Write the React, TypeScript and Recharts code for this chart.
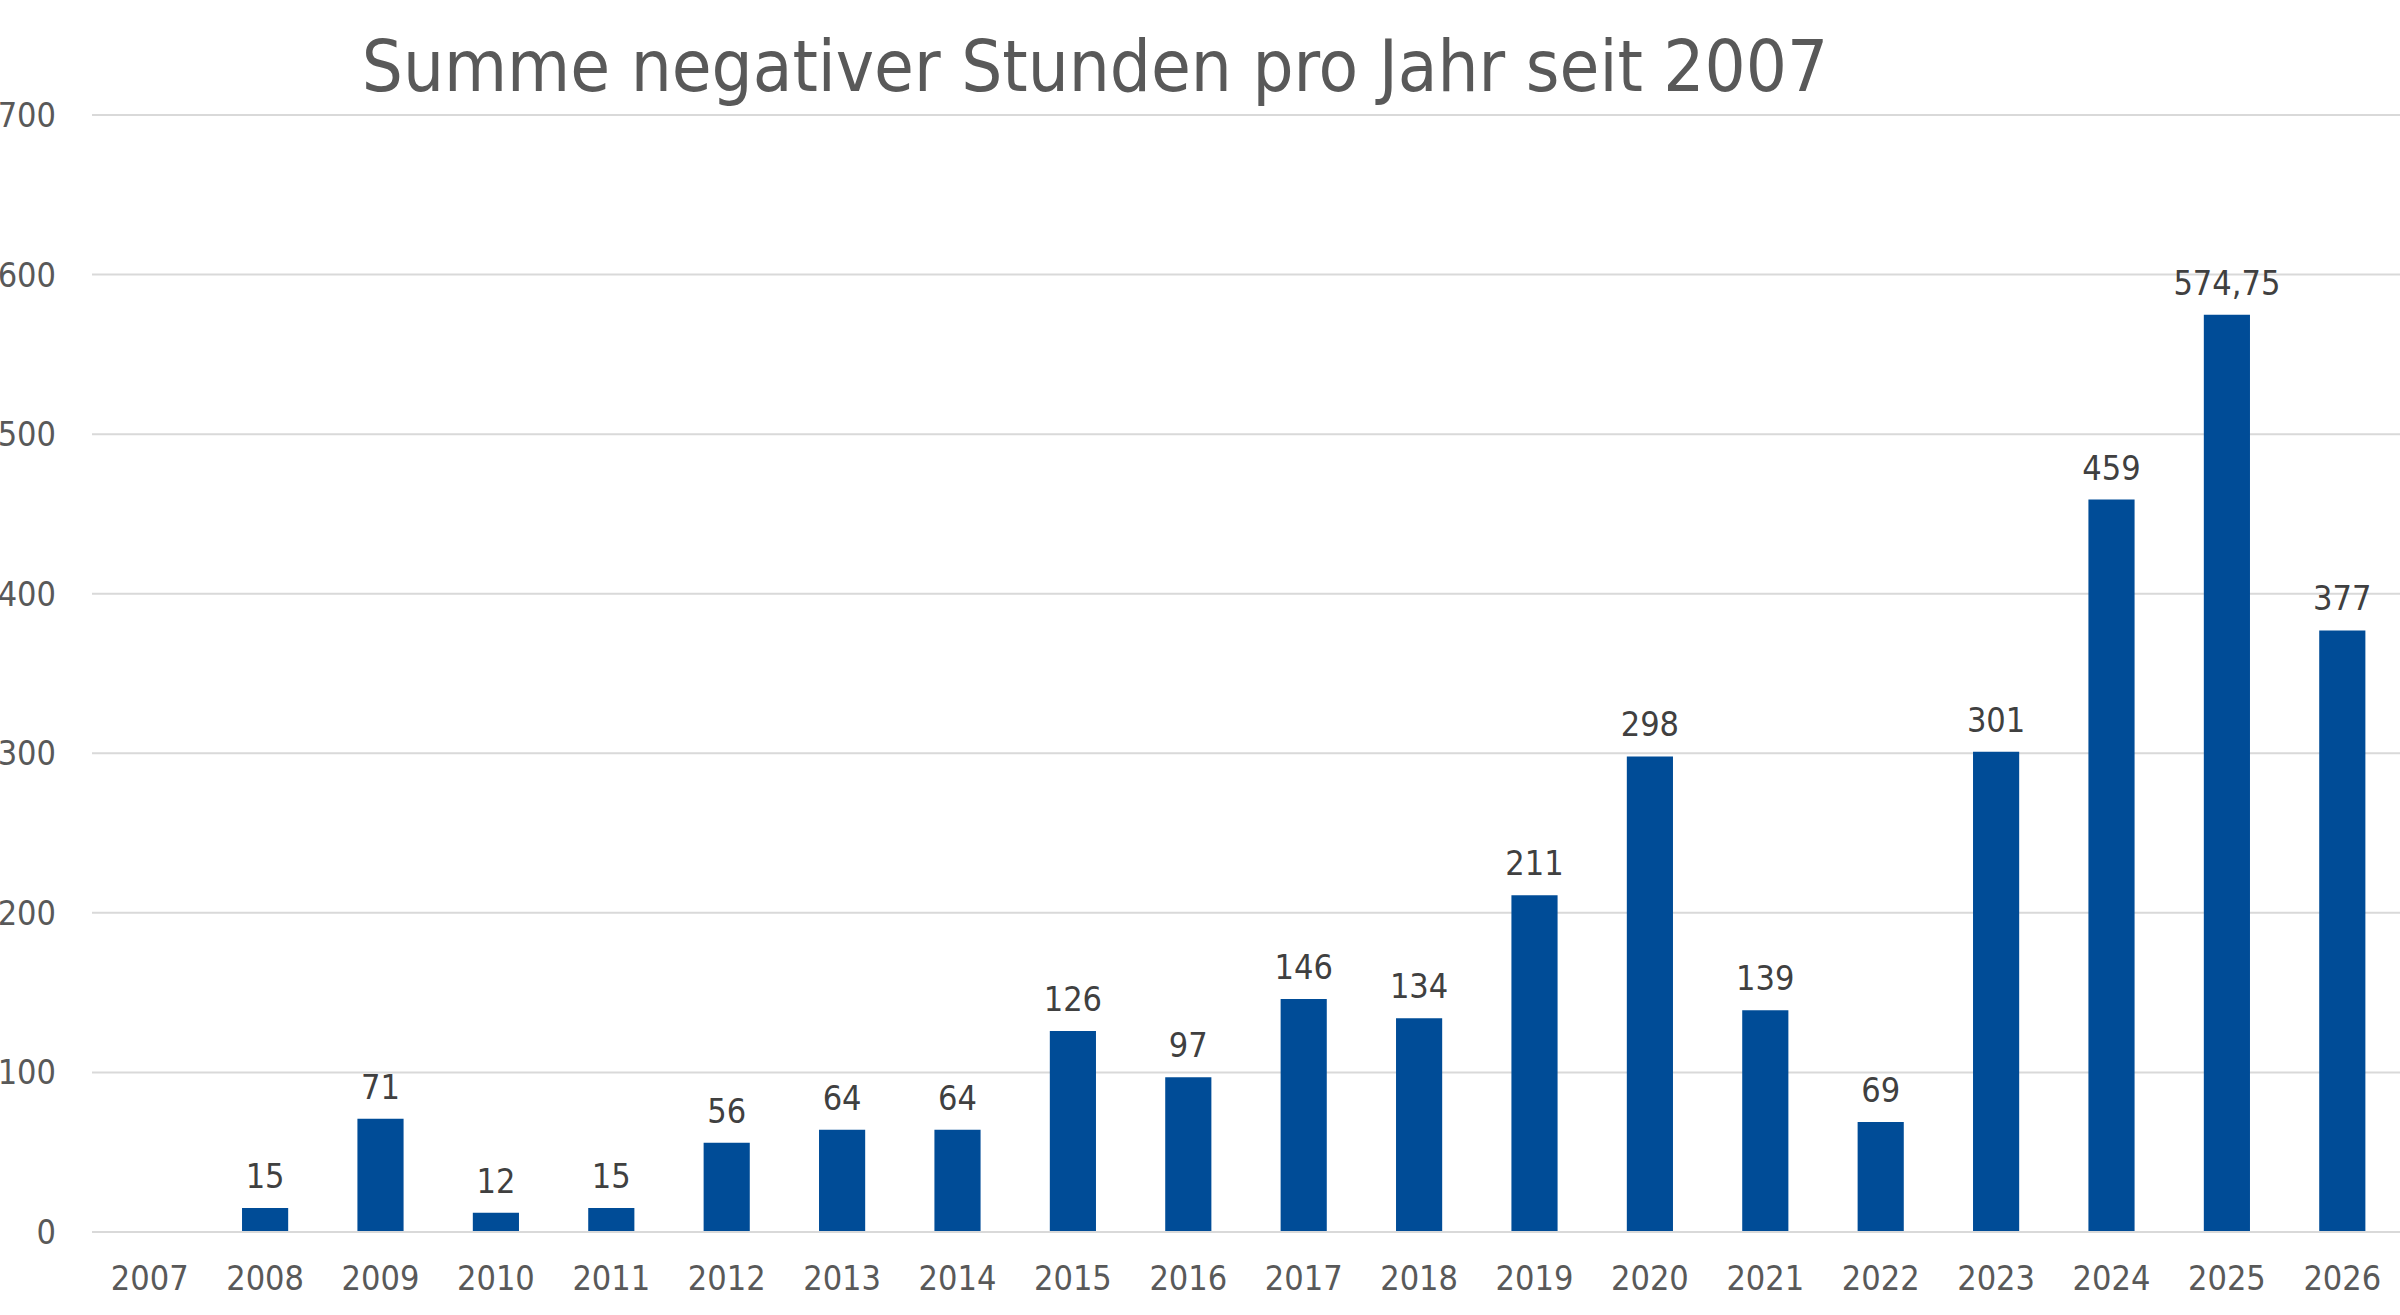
import { BarChart, Bar, XAxis, YAxis, CartesianGrid, LabelList } from "recharts"

const years = ["2007","2008","2009","2010","2011","2012","2013","2014","2015","2016","2017","2018","2019","2020","2021","2022","2023","2024","2025","2026"]
const hours = [0, 15, 71, 12, 15, 56, 64, 64, 126, 97, 146, 134, 211, 298, 139, 69, 301, 459, 574.75, 377]
const yTicks = [0, 100, 200, 300, 400, 500, 600, 700]

const data = years.map((year, i) => ({ year, hours: hours[i] }))

const font = "'DejaVu Sans Condensed', 'DejaVu Sans', sans-serif"
const grey = "#595959"

const renderLabel = (props: any) => {
  const { x, y, width, value } = props
  return (
    <text x={Number(x) + Number(width) / 2} y={Number(y) - 20} textAnchor="middle" fill="#404040" fontSize={34} fontFamily={font}>
      {String(value).replace(".", ",")}
    </text>
  )
}

export default function App() {
  return (
    <div style={{ position: "absolute", left: 0, top: 0, width: 2400, height: 1315, background: "#fff", fontFamily: font }}>
      <div style={{ position: "absolute", top: 24, left: 0, width: 2400, textAlign: "center", paddingRight: 210, boxSizing: "border-box", fontSize: 72, color: grey }}>
        Summe negativer Stunden pro Jahr seit 2007
      </div>
      <BarChart width={2400} height={1315} data={data} margin={{ top: 115, right: 0, bottom: 53, left: 0 }} barCategoryGap="70%">
        <CartesianGrid vertical={false} stroke="#d9d9d9" strokeWidth={2} />
        <XAxis dataKey="year" tickLine={false} axisLine={{ stroke: "#d9d9d9", strokeWidth: 2 }}
          tick={{ fill: grey, fontSize: 34, fontFamily: font }} tickMargin={28} interval={0} />
        <YAxis width={92} domain={[0, 700]} ticks={yTicks} tickLine={false} axisLine={false}
          tick={{ fill: grey, fontSize: 34, fontFamily: font }} tickMargin={30} />
        <Bar dataKey="hours" fill="#004C97" isAnimationActive={false}>
          <LabelList dataKey="hours" content={renderLabel} />
        </Bar>
      </BarChart>
    </div>
  )
}
